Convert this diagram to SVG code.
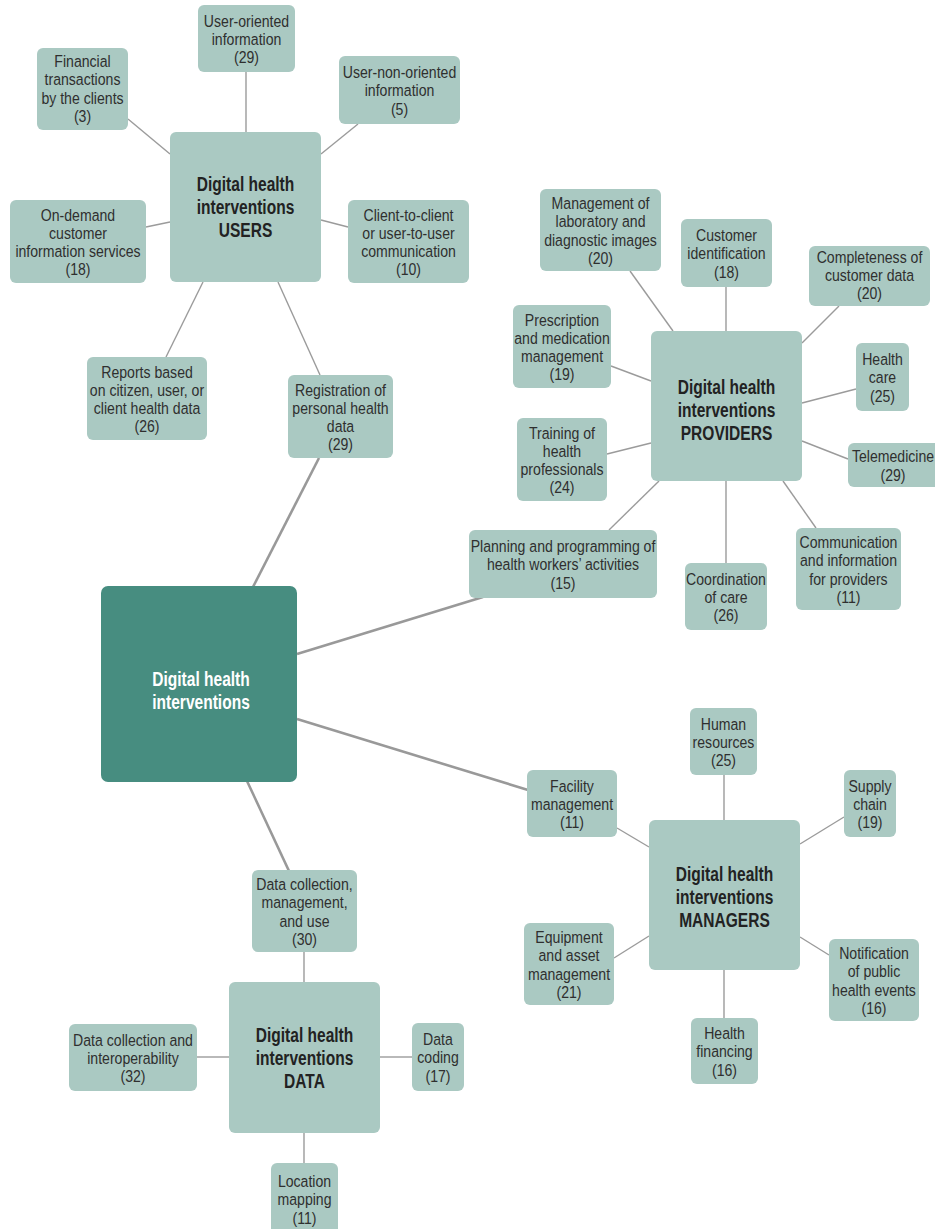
<svg xmlns="http://www.w3.org/2000/svg" width="935" height="1229" viewBox="0 0 935 1229">
  <style>
    .box { fill: #aac9c2; }
    .main { fill: #478d80; }
    .t { font-family: "Liberation Sans", Arial, sans-serif; font-size: 16.3px; fill: #2f2f2f; text-anchor: middle; }
    .h { font-family: "Liberation Sans", Arial, sans-serif; font-size: 21px; font-weight: bold; fill: #222; text-anchor: middle; }
    .hw { font-family: "Liberation Sans", Arial, sans-serif; font-size: 21px; font-weight: bold; fill: #fff; text-anchor: middle; }
    .ln { stroke: #9b9b9b; stroke-width: 1.4; fill: none; }
    .lk { stroke: #999; stroke-width: 2.6; fill: none; }
  </style>

  <!-- connectors -->
  <g id="connectors">
    <!-- main hub links -->
    <line class="lk" x1="319" y1="458" x2="253" y2="587"/>
    <line class="lk" x1="297" y1="654" x2="483" y2="597"/>
    <line class="lk" x1="297" y1="719" x2="528" y2="790"/>
    <line class="lk" x1="247" y1="781" x2="289" y2="871"/>
    <!-- users -->
    <line class="ln" x1="246" y1="72" x2="246" y2="132"/>
    <line class="ln" x1="128" y1="119" x2="170" y2="154"/>
    <line class="ln" x1="358" y1="124" x2="321" y2="154"/>
    <line class="ln" x1="146" y1="227" x2="170" y2="222"/>
    <line class="ln" x1="321" y1="220" x2="348" y2="227"/>
    <line class="ln" x1="203" y1="282" x2="166" y2="357"/>
    <line class="ln" x1="278" y1="282" x2="320" y2="375"/>
    <!-- providers -->
    <line class="ln" x1="630" y1="271" x2="673" y2="331"/>
    <line class="ln" x1="726" y1="287" x2="726" y2="331"/>
    <line class="ln" x1="839" y1="306" x2="802" y2="343"/>
    <line class="ln" x1="611" y1="366" x2="651" y2="381"/>
    <line class="ln" x1="802" y1="403" x2="856" y2="389"/>
    <line class="ln" x1="607" y1="454" x2="651" y2="443"/>
    <line class="ln" x1="802" y1="441" x2="848" y2="459"/>
    <line class="ln" x1="659" y1="481" x2="609" y2="530"/>
    <line class="ln" x1="726" y1="481" x2="726" y2="563"/>
    <line class="ln" x1="783" y1="481" x2="816" y2="528"/>
    <!-- managers -->
    <line class="ln" x1="724" y1="775" x2="724" y2="820"/>
    <line class="ln" x1="617" y1="828" x2="649" y2="847"/>
    <line class="ln" x1="844" y1="817" x2="800" y2="844"/>
    <line class="ln" x1="614" y1="958" x2="649" y2="936"/>
    <line class="ln" x1="800" y1="937" x2="829" y2="955"/>
    <line class="ln" x1="724" y1="970" x2="724" y2="1018"/>
    <!-- data -->
    <line class="ln" x1="304" y1="952" x2="304" y2="982"/>
    <line class="ln" x1="197" y1="1057" x2="229" y2="1057"/>
    <line class="ln" x1="380" y1="1057" x2="412" y2="1057"/>
    <line class="ln" x1="304" y1="1133" x2="304" y2="1163"/>
  </g>

  <!-- central node -->
  <g id="main">
    <rect class="main" x="101" y="586" width="196" height="196" rx="7"/>
    <text class="hw" transform="translate(201,685.5) scale(0.74 1)"><tspan x="0">Digital health</tspan><tspan x="0" dy="23.5">interventions</tspan></text>
  </g>

  <!-- USERS -->
  <g id="users-hub">
    <rect class="box" x="170" y="132" width="151" height="150" rx="6"/>
    <text class="h" transform="translate(245.5,190.5) scale(0.74 1)"><tspan x="0">Digital health</tspan><tspan x="0" dy="23.5">interventions</tspan><tspan x="0" dy="23.5">USERS</tspan></text>
  </g>
  <g id="user-oriented">
    <rect class="box" x="198" y="5" width="97" height="67" rx="6"/>
    <text class="t" transform="translate(246.5,26.7) scale(0.865 1)"><tspan x="0">User-oriented</tspan><tspan x="0" dy="18.3">information</tspan><tspan x="0" dy="18.3">(29)</tspan></text>
  </g>
  <g id="financial">
    <rect class="box" x="37" y="48" width="91" height="82" rx="6"/>
    <text class="t" transform="translate(82.5,67) scale(0.865 1)"><tspan x="0">Financial</tspan><tspan x="0" dy="18.3">transactions</tspan><tspan x="0" dy="18.3">by the clients</tspan><tspan x="0" dy="18.3">(3)</tspan></text>
  </g>
  <g id="user-non-oriented">
    <rect class="box" x="339" y="56" width="121" height="68" rx="6"/>
    <text class="t" transform="translate(399.5,78.2) scale(0.865 1)"><tspan x="0">User-non-oriented</tspan><tspan x="0" dy="18.3">information</tspan><tspan x="0" dy="18.3">(5)</tspan></text>
  </g>
  <g id="on-demand">
    <rect class="box" x="10" y="200" width="136" height="83" rx="6"/>
    <text class="t" transform="translate(78,220.5) scale(0.865 1)"><tspan x="0">On-demand</tspan><tspan x="0" dy="18.3">customer</tspan><tspan x="0" dy="18.3">information services</tspan><tspan x="0" dy="18.3">(18)</tspan></text>
  </g>
  <g id="client-to-client">
    <rect class="box" x="348" y="200" width="121" height="83" rx="6"/>
    <text class="t" transform="translate(408.5,220.5) scale(0.865 1)"><tspan x="0">Client-to-client</tspan><tspan x="0" dy="18.3">or user-to-user</tspan><tspan x="0" dy="18.3">communication</tspan><tspan x="0" dy="18.3">(10)</tspan></text>
  </g>
  <g id="reports">
    <rect class="box" x="87" y="357" width="120" height="83" rx="6"/>
    <text class="t" transform="translate(147,377.5) scale(0.865 1)"><tspan x="0">Reports based</tspan><tspan x="0" dy="18.3">on citizen, user, or</tspan><tspan x="0" dy="18.3">client health data</tspan><tspan x="0" dy="18.3">(26)</tspan></text>
  </g>
  <g id="registration">
    <rect class="box" x="288" y="375" width="105" height="83" rx="6"/>
    <text class="t" transform="translate(340.5,395.5) scale(0.865 1)"><tspan x="0">Registration of</tspan><tspan x="0" dy="18.3">personal health</tspan><tspan x="0" dy="18.3">data</tspan><tspan x="0" dy="18.3">(29)</tspan></text>
  </g>

  <!-- PROVIDERS -->
  <g id="providers-hub">
    <rect class="box" x="651" y="331" width="151" height="150" rx="6"/>
    <text class="h" transform="translate(726.5,393.5) scale(0.74 1)"><tspan x="0">Digital health</tspan><tspan x="0" dy="23.5">interventions</tspan><tspan x="0" dy="23.5">PROVIDERS</tspan></text>
  </g>
  <g id="lab-images">
    <rect class="box" x="540" y="189" width="121" height="82" rx="6"/>
    <text class="t" transform="translate(600.5,209) scale(0.865 1)"><tspan x="0">Management of</tspan><tspan x="0" dy="18.3">laboratory and</tspan><tspan x="0" dy="18.3">diagnostic images</tspan><tspan x="0" dy="18.3">(20)</tspan></text>
  </g>
  <g id="customer-id">
    <rect class="box" x="681" y="219" width="91" height="68" rx="6"/>
    <text class="t" transform="translate(726.5,241.2) scale(0.865 1)"><tspan x="0">Customer</tspan><tspan x="0" dy="18.3">identification</tspan><tspan x="0" dy="18.3">(18)</tspan></text>
  </g>
  <g id="completeness">
    <rect class="box" x="809" y="246" width="121" height="60" rx="6"/>
    <text class="t" transform="translate(869.5,262.5) scale(0.865 1)"><tspan x="0">Completeness of</tspan><tspan x="0" dy="18.3">customer data</tspan><tspan x="0" dy="18.3">(20)</tspan></text>
  </g>
  <g id="prescription">
    <rect class="box" x="513" y="305" width="98" height="83" rx="6"/>
    <text class="t" transform="translate(562,325.5) scale(0.865 1)"><tspan x="0">Prescription</tspan><tspan x="0" dy="18.3">and medication</tspan><tspan x="0" dy="18.3">management</tspan><tspan x="0" dy="18.3">(19)</tspan></text>
  </g>
  <g id="health-care">
    <rect class="box" x="856" y="343" width="53" height="68" rx="6"/>
    <text class="t" transform="translate(882.5,365.2) scale(0.865 1)"><tspan x="0">Health</tspan><tspan x="0" dy="18.3">care</tspan><tspan x="0" dy="18.3">(25)</tspan></text>
  </g>
  <g id="training">
    <rect class="box" x="517" y="418" width="90" height="83" rx="6"/>
    <text class="t" transform="translate(562,438.5) scale(0.865 1)"><tspan x="0">Training of</tspan><tspan x="0" dy="18.3">health</tspan><tspan x="0" dy="18.3">professionals</tspan><tspan x="0" dy="18.3">(24)</tspan></text>
  </g>
  <g id="telemedicine">
    <rect class="box" x="848" y="443" width="92" height="44" rx="6"/>
    <text class="t" transform="translate(893,462.3) scale(0.865 1)"><tspan x="0">Telemedicine</tspan><tspan x="0" dy="18.3">(29)</tspan></text>
  </g>
  <g id="planning">
    <rect class="box" x="469" y="530" width="188" height="68" rx="6"/>
    <text class="t" transform="translate(563,552.2) scale(0.865 1)"><tspan x="0">Planning and programming of</tspan><tspan x="0" dy="18.3">health workers’ activities</tspan><tspan x="0" dy="18.3">(15)</tspan></text>
  </g>
  <g id="coordination">
    <rect class="box" x="685" y="563" width="82" height="67" rx="6"/>
    <text class="t" transform="translate(726,584.7) scale(0.865 1)"><tspan x="0">Coordination</tspan><tspan x="0" dy="18.3">of care</tspan><tspan x="0" dy="18.3">(26)</tspan></text>
  </g>
  <g id="communication">
    <rect class="box" x="796" y="528" width="105" height="82" rx="6"/>
    <text class="t" transform="translate(848.5,548) scale(0.865 1)"><tspan x="0">Communication</tspan><tspan x="0" dy="18.3">and information</tspan><tspan x="0" dy="18.3">for providers</tspan><tspan x="0" dy="18.3">(11)</tspan></text>
  </g>

  <!-- MANAGERS -->
  <g id="managers-hub">
    <rect class="box" x="649" y="820" width="151" height="150" rx="6"/>
    <text class="h" transform="translate(724.5,880.5) scale(0.74 1)"><tspan x="0">Digital health</tspan><tspan x="0" dy="23.5">interventions</tspan><tspan x="0" dy="23.5">MANAGERS</tspan></text>
  </g>
  <g id="human-resources">
    <rect class="box" x="690" y="708" width="67" height="67" rx="6"/>
    <text class="t" transform="translate(723.5,729.7) scale(0.865 1)"><tspan x="0">Human</tspan><tspan x="0" dy="18.3">resources</tspan><tspan x="0" dy="18.3">(25)</tspan></text>
  </g>
  <g id="facility">
    <rect class="box" x="527" y="770" width="90" height="67" rx="6"/>
    <text class="t" transform="translate(572,791.7) scale(0.865 1)"><tspan x="0">Facility</tspan><tspan x="0" dy="18.3">management</tspan><tspan x="0" dy="18.3">(11)</tspan></text>
  </g>
  <g id="supply-chain">
    <rect class="box" x="844" y="770" width="52" height="67" rx="6"/>
    <text class="t" transform="translate(870,791.7) scale(0.865 1)"><tspan x="0">Supply</tspan><tspan x="0" dy="18.3">chain</tspan><tspan x="0" dy="18.3">(19)</tspan></text>
  </g>
  <g id="equipment">
    <rect class="box" x="524" y="923" width="90" height="82" rx="6"/>
    <text class="t" transform="translate(569,943) scale(0.865 1)"><tspan x="0">Equipment</tspan><tspan x="0" dy="18.3">and asset</tspan><tspan x="0" dy="18.3">management</tspan><tspan x="0" dy="18.3">(21)</tspan></text>
  </g>
  <g id="notification">
    <rect class="box" x="829" y="939" width="90" height="82" rx="6"/>
    <text class="t" transform="translate(874,959) scale(0.865 1)"><tspan x="0">Notification</tspan><tspan x="0" dy="18.3">of public</tspan><tspan x="0" dy="18.3">health events</tspan><tspan x="0" dy="18.3">(16)</tspan></text>
  </g>
  <g id="health-financing">
    <rect class="box" x="691" y="1018" width="67" height="66" rx="6"/>
    <text class="t" transform="translate(724.5,1039.2) scale(0.865 1)"><tspan x="0">Health</tspan><tspan x="0" dy="18.3">financing</tspan><tspan x="0" dy="18.3">(16)</tspan></text>
  </g>

  <!-- DATA -->
  <g id="data-hub">
    <rect class="box" x="229" y="982" width="151" height="151" rx="6"/>
    <text class="h" transform="translate(304.5,1041.5) scale(0.74 1)"><tspan x="0">Digital health</tspan><tspan x="0" dy="23.5">interventions</tspan><tspan x="0" dy="23.5">DATA</tspan></text>
  </g>
  <g id="data-use">
    <rect class="box" x="252" y="870" width="105" height="82" rx="6"/>
    <text class="t" transform="translate(304.5,890) scale(0.865 1)"><tspan x="0">Data collection,</tspan><tspan x="0" dy="18.3">management,</tspan><tspan x="0" dy="18.3">and use</tspan><tspan x="0" dy="18.3">(30)</tspan></text>
  </g>
  <g id="interoperability">
    <rect class="box" x="69" y="1024" width="128" height="67" rx="6"/>
    <text class="t" transform="translate(133,1045.7) scale(0.865 1)"><tspan x="0">Data collection and</tspan><tspan x="0" dy="18.3">interoperability</tspan><tspan x="0" dy="18.3">(32)</tspan></text>
  </g>
  <g id="data-coding">
    <rect class="box" x="412" y="1023" width="52" height="68" rx="6"/>
    <text class="t" transform="translate(438,1045.2) scale(0.865 1)"><tspan x="0">Data</tspan><tspan x="0" dy="18.3">coding</tspan><tspan x="0" dy="18.3">(17)</tspan></text>
  </g>
  <g id="location-mapping">
    <rect class="box" x="271" y="1163" width="67" height="72" rx="6"/>
    <text class="t" transform="translate(304.5,1187.2) scale(0.865 1)"><tspan x="0">Location</tspan><tspan x="0" dy="18.3">mapping</tspan><tspan x="0" dy="18.3">(11)</tspan></text>
  </g>
</svg>
